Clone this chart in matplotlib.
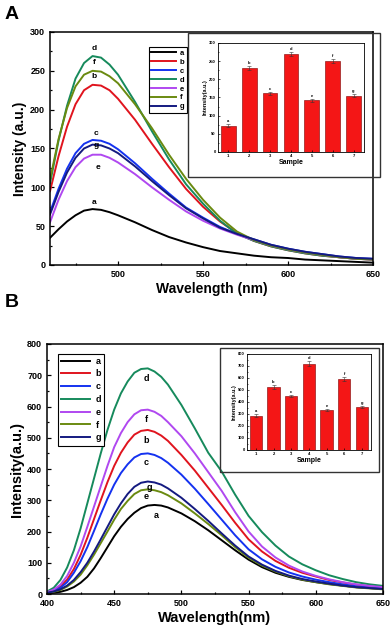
import matplotlib
matplotlib.use('Agg')
import matplotlib.pyplot as plt
from matplotlib.patches import Rectangle
from matplotlib.ticker import MultipleLocator

plt.rcParams['font.family'] = ['Liberation Sans', 'DejaVu Sans']
plt.rcParams['font.weight'] = 'bold'

names = ['a', 'b', 'c', 'd', 'e', 'f', 'g']
colors = ['#000000', '#e0141e', '#1432f0', '#168a5c', '#b048f0', '#6a8a10', '#141a80']

# ---- panel A spectra ----
wl_a = [460, 465, 470, 475, 480, 485, 490, 495, 500, 510, 520, 530, 540, 550,
        560, 570, 580, 590, 600, 610, 620, 630, 640, 650]
spec_a = {
    'a': [35, 46, 56, 64, 70, 72, 71, 68, 64, 55, 45, 36, 29, 23, 18, 15, 12, 10, 9, 7, 6, 5, 4, 3],
    'b': [95, 140, 178, 207, 225, 232, 231, 225, 214, 187, 156, 126, 98, 75, 56, 41, 31, 24, 19, 15, 12, 10, 8, 7],
    'c': [68, 98, 124, 144, 156, 161, 160, 156, 149, 131, 111, 92, 74, 61, 49, 40, 33, 26, 21, 17, 14, 11, 9, 8],
    'd': [105, 160, 205, 240, 260, 269, 267, 258, 245, 210, 172, 136, 104, 79, 57, 40, 31, 24, 19, 15, 12, 10, 8, 7],
    'e': [55, 84, 108, 126, 137, 142, 142, 138, 132, 117, 100, 84, 69, 57, 47, 39, 32, 25, 20, 16, 13, 10, 8, 7],
    'f': [110, 162, 202, 230, 245, 250, 249, 243, 234, 207, 176, 142, 111, 84, 61, 43, 32, 25, 20, 16, 13, 10, 8, 7],
    'g': [65, 94, 119, 138, 150, 155, 154, 150, 144, 127, 108, 90, 73, 60, 48, 40, 33, 26, 21, 17, 14, 11, 9, 8],
}
bars_a = [72, 232, 161, 269, 142, 250, 155]
err_a = [4, 5, 5, 6, 4, 6, 5]

# ---- panel B spectra ----
wl_b = [400, 405, 410, 415, 420, 425, 430, 435, 440, 445, 450, 455, 460, 465, 470, 475,
        480, 485, 490, 500, 510, 520, 530, 540, 550, 560, 570, 580, 590, 600, 610,
        620, 630, 640, 650]
spec_b = {
    'a': [2, 4, 7, 13, 22, 36, 55, 82, 115, 150, 185, 215, 240, 260, 275, 283,
          285, 283, 277, 258, 233, 204, 172, 140, 110, 86, 68, 55, 45, 38, 32, 27, 22, 19, 16],
    'b': [5, 12, 24, 46, 80, 125, 180, 240, 300, 358, 410, 452, 485, 510, 522, 525,
          519, 507, 490, 445, 395, 340, 285, 228, 175, 136, 106, 84, 68, 56, 45, 37, 30, 25, 21],
    'c': [4, 10, 20, 38, 68, 105, 150, 202, 255, 305, 350, 387, 415, 437, 448, 450,
          445, 435, 420, 382, 337, 288, 238, 188, 143, 111, 87, 69, 56, 46, 38, 31, 25, 21, 18],
    'd': [8, 20, 45, 85, 140, 210, 290, 370, 450, 525, 590, 642, 680, 708, 720, 722,
          712, 695, 670, 605, 530, 452, 392, 318, 250, 198, 155, 120, 95, 76, 60, 48, 38, 31, 26],
    'e': [6, 14, 30, 58, 100, 152, 215, 280, 345, 410, 470, 515, 550, 575, 588, 590,
          583, 570, 550, 505, 450, 390, 330, 262, 200, 152, 117, 91, 72, 58, 47, 38, 31, 26, 22],
    'f': [3, 7, 13, 24, 40, 62, 92, 126, 163, 200, 238, 272, 298, 320, 332, 335,
          332, 326, 316, 290, 258, 224, 188, 150, 116, 91, 72, 57, 46, 38, 31, 26, 21, 18, 15],
    'g': [4, 8, 15, 27, 45, 70, 100, 136, 175, 215, 255, 290, 320, 343, 356, 360,
          357, 350, 338, 308, 272, 234, 194, 155, 120, 94, 74, 59, 48, 40, 33, 27, 22, 19, 16],
}
bars_b = [285, 525, 450, 720, 335, 590, 360]
err_b = [12, 15, 12, 18, 10, 14, 10]

samples = [1, 2, 3, 4, 5, 6, 7]

# curve tag positions (wavelength, intensity)
tags_a = [('d', 486, 274), ('f', 486, 256), ('b', 486, 238), ('c', 487, 165),
          ('g', 487, 149), ('e', 488, 130), ('a', 486, 76)]
tags_b = [('d', 474, 690), ('f', 474, 558), ('b', 474, 492), ('c', 474, 420),
          ('g', 476, 342), ('e', 474, 312), ('a', 481, 250)]


def style_axes(ax, lw=1.1, size=6.5, ticklen=3):
    for s in ax.spines.values():
        s.set_linewidth(lw)
    ax.tick_params(which='both', direction='in', width=lw * 0.8, labelsize=size)
    ax.tick_params(which='major', length=ticklen)
    ax.tick_params(which='minor', length=ticklen * 0.6)
    for lab in ax.get_xticklabels() + ax.get_yticklabels():
        lab.set_fontweight('bold')


def add_inset(fig, rect, frame, bars, err, ymax, ystep):
    fig.patches.append(Rectangle(frame[:2], frame[2], frame[3], transform=fig.transFigure,
                                 fill=False, edgecolor='#333333', lw=1.0))
    ins = fig.add_axes(rect)
    ins.bar(samples, bars, width=0.7, color='#f41616', edgecolor='#7a0000', lw=0.4,
            yerr=err, error_kw=dict(ecolor='#333333', elinewidth=0.4, capsize=1.2, capthick=0.4))
    for x, v, e, n in zip(samples, bars, err, names):
        ins.text(x, v + e + ymax * 0.01, n, ha='center', va='bottom', fontsize=3, fontweight='bold')
    ins.set_xlim(0.5, 7.5)
    ins.set_ylim(0, ymax)
    ins.set_xticks(samples)
    ins.yaxis.set_major_locator(MultipleLocator(ystep))
    ins.yaxis.set_minor_locator(MultipleLocator(ystep / 2))
    ins.set_xlabel('Sample', fontsize=5, fontweight='bold', labelpad=1)
    ins.set_ylabel('Intensity(a.u.)', fontsize=4, fontweight='bold', labelpad=1)
    style_axes(ins, lw=0.6, size=3, ticklen=1.5)
    ins.tick_params(pad=1.5)
    return ins


fig = plt.figure(figsize=(3.92, 6.32), dpi=100)

# ---------- panel A ----------
axA = fig.add_axes([0.1276, 0.5807, 0.824, 0.3687])
for n, c in zip(names, colors):
    axA.plot(wl_a, spec_a[n], color=c, lw=1.4, label=n)
for n, x, y in tags_a:
    axA.text(x, y, n, ha='center', va='bottom' if n != 'e' else 'top',
             fontsize=6, fontweight='bold')
axA.set_xlim(460, 650)
axA.set_ylim(0, 300)
axA.xaxis.set_major_locator(MultipleLocator(50))
axA.xaxis.set_minor_locator(MultipleLocator(25))
axA.yaxis.set_major_locator(MultipleLocator(50))
axA.yaxis.set_minor_locator(MultipleLocator(25))
axA.set_xlabel('Wavelength (nm)', fontsize=10, fontweight='bold', labelpad=2)
axA.set_ylabel('Intensity (a.u.)', fontsize=10, fontweight='bold', labelpad=2)
style_axes(axA)
legA = axA.legend(loc='upper left', bbox_to_anchor=(0.295, 0.95), fontsize=5.5,
                  handlelength=3.2, labelspacing=0.2, borderpad=0.3, handletextpad=0.5,
                  fancybox=False, edgecolor='black', framealpha=1)
legA.get_frame().set_linewidth(0.8)
for t in legA.get_texts():
    t.set_fontweight('bold')
add_inset(fig, [0.556, 0.7595, 0.3724, 0.1725], [0.4796, 0.72, 0.49, 0.228],
          bars_a, err_a, 300, 50)

# ---------- panel B ----------
axB = fig.add_axes([0.1199, 0.0601, 0.857, 0.3956])
for n, c in zip(names, colors):
    axB.plot(wl_b, spec_b[n], color=c, lw=1.4, label=n)
for n, x, y in tags_b:
    axB.text(x, y, n, ha='center', va='center', fontsize=6.5, fontweight='bold')
axB.set_xlim(400, 650)
axB.set_ylim(0, 800)
axB.xaxis.set_major_locator(MultipleLocator(50))
axB.xaxis.set_minor_locator(MultipleLocator(25))
axB.yaxis.set_major_locator(MultipleLocator(100))
axB.yaxis.set_minor_locator(MultipleLocator(50))
axB.set_xlabel('Wavelength(nm)', fontsize=10.5, fontweight='bold', labelpad=2)
axB.set_ylabel('Intensity(a.u.)', fontsize=10.5, fontweight='bold', labelpad=2)
style_axes(axB)
legB = axB.legend(loc='upper left', bbox_to_anchor=(0.02, 0.98), fontsize=6.5,
                  handlelength=3.2, labelspacing=0.42, borderpad=0.35, handletextpad=0.6,
                  fancybox=False, edgecolor='black', framealpha=1)
legB.get_frame().set_linewidth(0.8)
for t in legB.get_texts():
    t.set_fontweight('bold')
add_inset(fig, [0.630, 0.288, 0.316, 0.152], [0.561, 0.253, 0.406, 0.196],
          bars_b, err_b, 800, 100)

fig.text(0.012, 0.99, 'A', fontsize=14, fontweight='bold', va='top')
fig.text(0.012, 0.535, 'B', fontsize=14, fontweight='bold', va='top')

fig.savefig('out.png', dpi=100)
